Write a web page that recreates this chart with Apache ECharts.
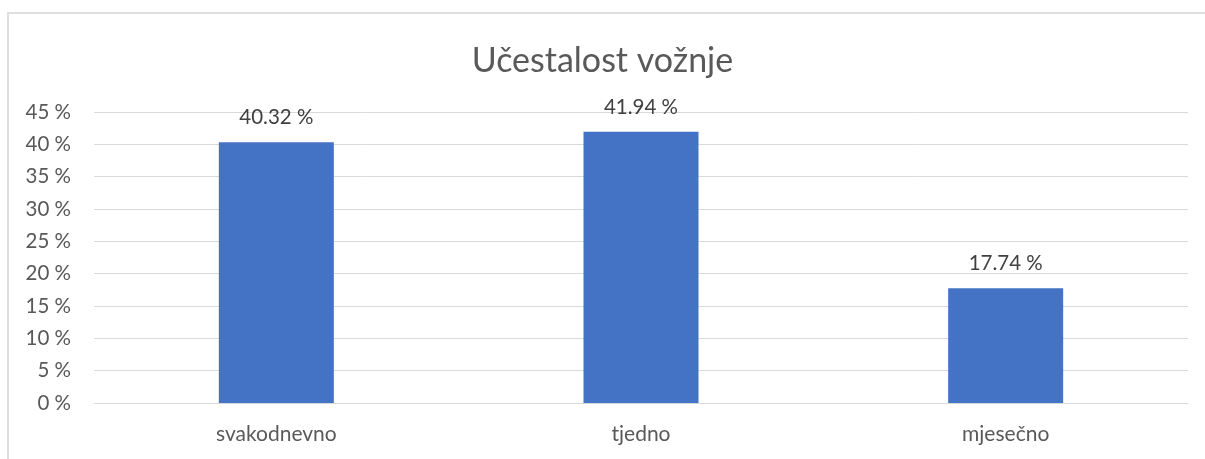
<!DOCTYPE html>
<html><head><meta charset="utf-8">
<script src="https://cdn.jsdelivr.net/npm/echarts@6/dist/echarts.min.js"></script>
<style>
html,body{margin:0;padding:0;background:#fff;overflow:hidden;width:1205px;height:459px;}
#frame{position:absolute;left:7px;top:12px;width:1300px;height:600px;border:2px solid #dedede;box-sizing:border-box;}
#c{position:absolute;left:0;top:0;width:1205px;height:459px;}
</style>
</head><body>
<div id="frame"></div>
<div id="c"></div>
<script>
const categories = ['svakodnevno', 'tjedno', 'mjesečno'];
const values = [40.32, 41.94, 17.74];
const yTicks = { min: 0, max: 45, interval: 5 };
const titleText = 'Učestalost vožnje';

const chart = echarts.init(document.getElementById('c'), null, { renderer: 'canvas' });
const FONT = 'Lato, "Open Sans", sans-serif';
chart.setOption({
  animation: false,
  title: {
    text: titleText, left: 'center', top: 39,
    textStyle: { fontFamily: FONT, fontSize: 34, fontWeight: 'normal', color: '#595959' }
  },
  grid: { left: 94, right: 17, top: 112, bottom: 56, containLabel: false },
  xAxis: {
    type: 'category', data: categories,
    axisLine: { show: true, lineStyle: { color: '#d9d9d9', width: 1 } },
    axisTick: { show: false },
    axisLabel: { fontFamily: FONT, fontSize: 21, color: '#595959', margin: 21 }
  },
  yAxis: {
    type: 'value', min: yTicks.min, max: yTicks.max, interval: yTicks.interval,
    axisLine: { show: false }, axisTick: { show: false },
    axisLabel: { fontFamily: FONT, fontSize: 20.5, color: '#595959', margin: 23,
      formatter: v => v + ' %' },
    splitLine: { lineStyle: { color: '#d9d9d9', width: 1 } }
  },
  series: [{
    type: 'bar', data: values, barWidth: 115,
    itemStyle: { color: '#4472C4' },
    label: { show: true, position: 'top', distance: 14,
      fontFamily: FONT, fontSize: 20.5, color: '#404040',
      formatter: p => p.value.toFixed(2) + ' %' }
  }]
});
</script>
</body></html>
